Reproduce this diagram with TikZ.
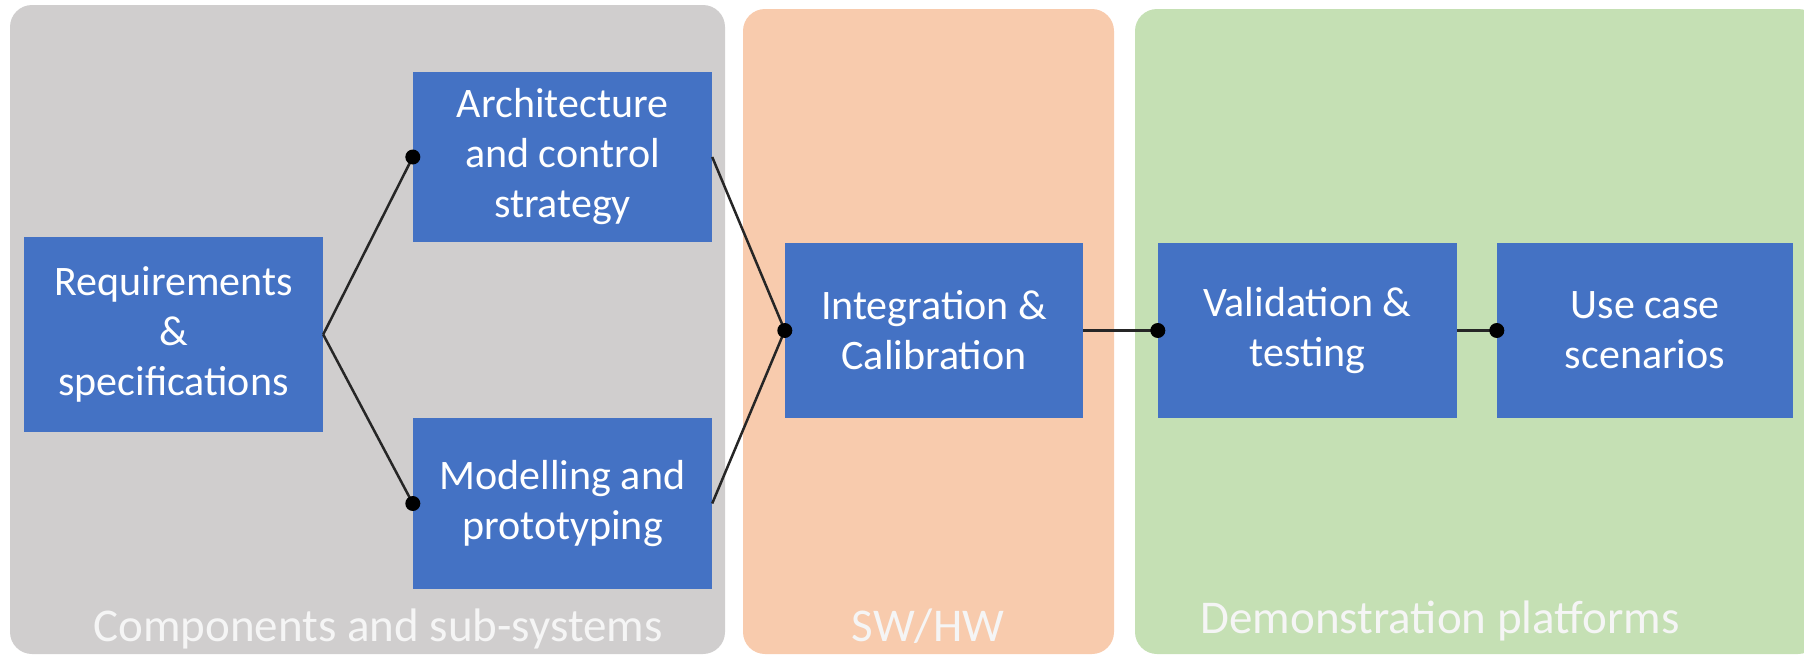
\documentclass[tikz,border=0pt]{standalone}
\usepackage{fontspec}
\setmainfont{Carlito}
\usetikzlibrary{positioning}

\definecolor{panelgray}{HTML}{D0CECE}
\definecolor{panelorange}{HTML}{F8CBAD}
\definecolor{panelgreen}{HTML}{C5E0B4}
\definecolor{boxblue}{HTML}{4472C4}

\tikzset{
    stage/.style={fill=boxblue, text=white, align=center, inner sep=0pt,
        minimum width=299pt, font=\fontsize{42}{50}\selectfont},
    panellabel/.style={anchor=base, text=white!96!black, inner sep=0pt,
        font=\fontsize{47}{56}\selectfont},
    dot/.style={circle, fill=black, inner sep=0pt, minimum size=15pt},
    link/.style={line width=2.5pt, black!85}
}

\begin{document}
\begin{tikzpicture}[x=1pt,y=-1pt]
        \useasboundingbox (0,0) rectangle (1804,656);

        % panels
        \fill[panelgray, rounded corners=22pt] (10,5) rectangle (725,654);
        \fill[panelorange, rounded corners=22pt] (743,9) rectangle (1114,654);
        \fill[panelgreen, rounded corners=22pt] (1135,9) rectangle (1820,654);

        \node[panellabel] (lblcomp) at (378,641) {Components and sub-systems};
        \node[panellabel] (lblswhw) at (928,641) {SW/HW};
        \node[panellabel] (lbldemo) at (1440,633) {Demonstration platforms};

        % stages
        \node[stage, minimum height=195pt] (req) at (173.5,334.5) {Requirements\\\&\\specifications};
        \node[stage, minimum height=170pt] (arch) at (562.5,157) {Architecture\\and control\\strategy};
        \node[stage, minimum height=171pt] (model) at (562.5,503.5) {Modelling and\\prototyping};
        \node[stage, minimum height=175pt, minimum width=298pt] (integ) at (934,330.5) {Integration \&\\Calibration};
        \node[stage, minimum height=175pt] (valid) at (1307.5,330.5) {Validation \&\\testing};
        \node[stage, minimum height=175pt, minimum width=296pt] (usecase) at (1645,330.5) {Use case\\scenarios};

        % links
        \draw[link] (req.east) -- (arch.west) node[dot] {};
        \draw[link] (req.east) -- (model.west) node[dot] {};
        \draw[link] (arch.east) -- (integ.west);
        \draw[link] (model.east) -- (integ.west) node[dot] {};
        \draw[link] (integ.east) -- (valid.west) node[dot] {};
        \draw[link] (valid.east) -- (usecase.west) node[dot] {};
    \end{tikzpicture}
\end{document}
